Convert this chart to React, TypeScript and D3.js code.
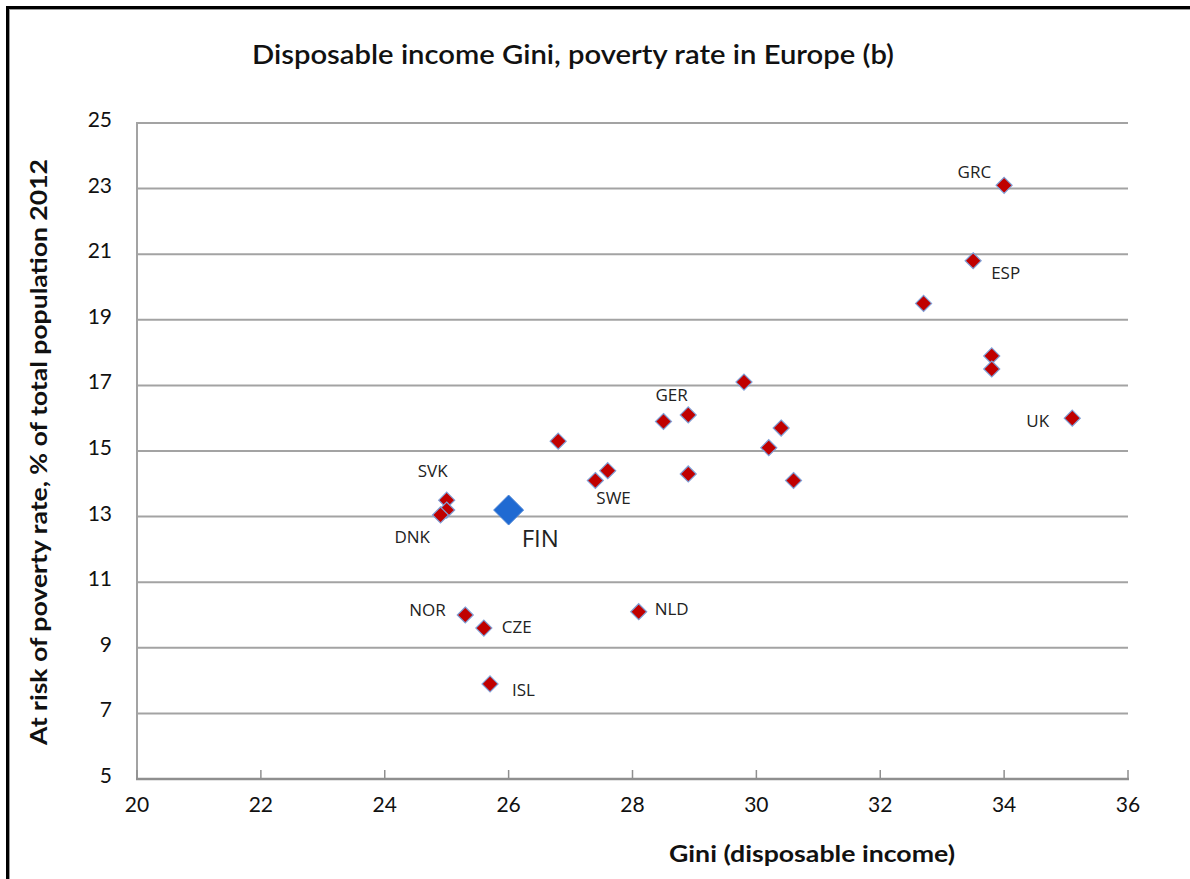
import React, { useEffect, useRef } from 'react';
import * as d3 from 'd3';

// Countries, Gini of disposable income and at-risk-of-poverty rate (2012)
const countries = ['GRC', 'ESP', '', '', '', 'UK', '', '', 'GER', '', '', '', '', 'SWE', '', '', 'SVK', '', 'DNK', 'FIN', 'NOR', 'CZE', 'ISL', 'NLD'];
const gini = [34.0, 33.5, 32.7, 33.8, 33.8, 35.1, 29.8, 28.9, 28.5, 30.4, 30.2, 26.8, 27.6, 27.4, 28.9, 30.6, 25.0, 25.0, 24.9, 26.0, 25.3, 25.6, 25.7, 28.1];
const poverty = [23.1, 20.8, 19.5, 17.9, 17.5, 16.0, 17.1, 16.1, 15.9, 15.7, 15.1, 15.3, 14.4, 14.1, 14.3, 14.1, 13.5, 13.2, 13.05, 13.2, 10.0, 9.6, 7.9, 10.1];
const highlight = 'FIN';

const xTicks = [20, 22, 24, 26, 28, 30, 32, 34, 36];
const yTicks = [5, 7, 9, 11, 13, 15, 17, 19, 21, 23, 25];

// label placement relative to the marker: [dx, dy, anchor]
const labelPos: Record<string, [number, number, string]> = {
  GRC: [-13, -7, 'end'],
  ESP: [18, 18, 'start'],
  GER: [-8, -20, 'start'],
  SWE: [1, 23, 'start'],
  SVK: [-29, -23, 'start'],
  DNK: [-46, 28, 'start'],
  FIN: [13, 37, 'start'],
  NOR: [-56, 1, 'start'],
  CZE: [18, 5, 'start'],
  ISL: [22, 12, 'start'],
  NLD: [16, 3, 'start'],
  UK: [-46, 9, 'start'],
};

const W = 1190;
const H = 879;
const margin = { left: 137, right: W - 1128, top: 123, bottom: H - 779 };

const diamond = {
  draw(ctx: any, size: number) {
    const r = Math.sqrt(size / 2);
    ctx.moveTo(0, -r);
    ctx.lineTo(r, 0);
    ctx.lineTo(0, r);
    ctx.lineTo(-r, 0);
    ctx.closePath();
  },
};

const Chart: React.FC = () => {
  const svgRef = useRef<SVGSVGElement>(null);

  useEffect(() => {
    if (!svgRef.current) return;
    const svg = d3.select(svgRef.current);
    svg.selectAll('*').remove();

    const x = d3.scaleLinear().domain([20, 36]).range([margin.left, W - margin.right]);
    const y = d3.scaleLinear().domain([5, 25]).range([H - margin.bottom, margin.top]);

    // outer frame
    svg.append('rect')
      .attr('x', 7.5).attr('y', 7.5)
      .attr('width', W + 20).attr('height', H + 20)
      .attr('fill', 'white').attr('stroke', '#000').attr('stroke-width', 3);
    svg.append('rect')
      .attr('x', 9.5).attr('y', 9.5)
      .attr('width', W + 20).attr('height', H + 20)
      .attr('fill', 'none').attr('stroke', '#9a9a9a').attr('stroke-width', 1);

    // title
    svg.append('text')
      .attr('x', 573).attr('y', 64)
      .attr('text-anchor', 'middle')
      .attr('font-family', 'Lato, sans-serif')
      .attr('font-weight', 600)
      .attr('font-size', 27)
      .attr('textLength', 642)
      .attr('lengthAdjust', 'spacingAndGlyphs')
      .attr('fill', '#111')
      .text('Disposable income Gini, poverty rate in Europe (b)');

    // horizontal gridlines
    svg.append('g')
      .selectAll('line')
      .data(yTicks.slice(1))
      .enter()
      .append('line')
      .attr('x1', x(20)).attr('x2', x(36))
      .attr('y1', (d) => y(d)).attr('y2', (d) => y(d))
      .attr('stroke', '#a3a3a3').attr('stroke-width', 2);

    // axes lines
    svg.append('line')
      .attr('x1', x(20)).attr('x2', x(20))
      .attr('y1', y(25) - 1).attr('y2', y(5))
      .attr('stroke', '#a3a3a3').attr('stroke-width', 2);
    svg.append('line')
      .attr('x1', x(20) - 1).attr('x2', x(36) + 1)
      .attr('y1', y(5)).attr('y2', y(5))
      .attr('stroke', '#8f8f8f').attr('stroke-width', 2.5);

    // x ticks (inside)
    svg.append('g')
      .selectAll('line')
      .data(xTicks)
      .enter()
      .append('line')
      .attr('x1', (d) => x(d)).attr('x2', (d) => x(d))
      .attr('y1', y(5)).attr('y2', y(5) - 9)
      .attr('stroke', '#8f8f8f').attr('stroke-width', 1.5);

    const tickFont = 'Lato, sans-serif';
    svg.append('g')
      .selectAll('text')
      .data(yTicks)
      .enter()
      .append('text')
      .attr('x', x(20) - 25)
      .attr('y', (d) => y(d) + 4)
      .attr('text-anchor', 'end')
      .attr('font-family', tickFont)
      .attr('font-size', 21)
      .attr('fill', '#111')
      .text((d) => d);

    svg.append('g')
      .selectAll('text')
      .data(xTicks)
      .enter()
      .append('text')
      .attr('x', (d) => x(d))
      .attr('y', y(5) + 33)
      .attr('text-anchor', 'middle')
      .attr('font-family', tickFont)
      .attr('font-size', 21)
      .attr('fill', '#111')
      .text((d) => d);

    // axis titles
    svg.append('text')
      .attr('x', 812).attr('y', 862)
      .attr('text-anchor', 'middle')
      .attr('font-family', 'Lato, sans-serif')
      .attr('font-weight', 700)
      .attr('font-size', 23)
      .attr('textLength', 286)
      .attr('lengthAdjust', 'spacingAndGlyphs')
      .attr('fill', '#111')
      .text('Gini (disposable income)');

    svg.append('text')
      .attr('transform', `translate(47,452) rotate(-90)`)
      .attr('text-anchor', 'middle')
      .attr('font-family', 'Lato, sans-serif')
      .attr('font-weight', 700)
      .attr('font-size', 22)
      .attr('textLength', 586)
      .attr('lengthAdjust', 'spacingAndGlyphs')
      .attr('fill', '#111')
      .text('At risk of poverty rate, % of total population  2012');

    // points
    const pts = countries.map((c, i) => ({ c, gx: gini[i], py: poverty[i] }));
    const sym = d3.symbol().type(diamond as any);

    svg.append('g')
      .selectAll('path')
      .data(pts.filter((p) => p.c !== highlight))
      .enter()
      .append('path')
      .attr('transform', (d) => `translate(${x(d.gx)},${y(d.py)})`)
      .attr('d', sym.size(2 * 8 * 8)() as string)
      .attr('fill', '#c00000')
      .attr('stroke', '#7f9fd6')
      .attr('stroke-width', 1.2);

    svg.append('g')
      .selectAll('path')
      .data(pts.filter((p) => p.c === highlight))
      .enter()
      .append('path')
      .attr('transform', (d) => `translate(${x(d.gx)},${y(d.py)})`)
      .attr('d', sym.size(2 * 15 * 15)() as string)
      .attr('fill', '#1f6ad2')
      .attr('stroke', '#4f86d6')
      .attr('stroke-width', 1);

    // country labels
    svg.append('g')
      .selectAll('text')
      .data(pts.filter((p) => p.c && labelPos[p.c]))
      .enter()
      .append('text')
      .attr('x', (d) => x(d.gx) + labelPos[d.c][0])
      .attr('y', (d) => y(d.py) + labelPos[d.c][1])
      .attr('text-anchor', (d) => labelPos[d.c][2])
      .attr('font-family', "'Open Sans', sans-serif")
      .attr('font-size', (d) => (d.c === highlight ? 24 : 17))
      .attr('fill', '#222')
      .text((d) => d.c);
  }, []);

  return (
    <svg
      ref={svgRef}
      width={W}
      height={H}
      style={{ position: 'absolute', left: 0, top: 0, background: '#fff' }}
    />
  );
};

export default function App() {
  return <Chart />;
}
